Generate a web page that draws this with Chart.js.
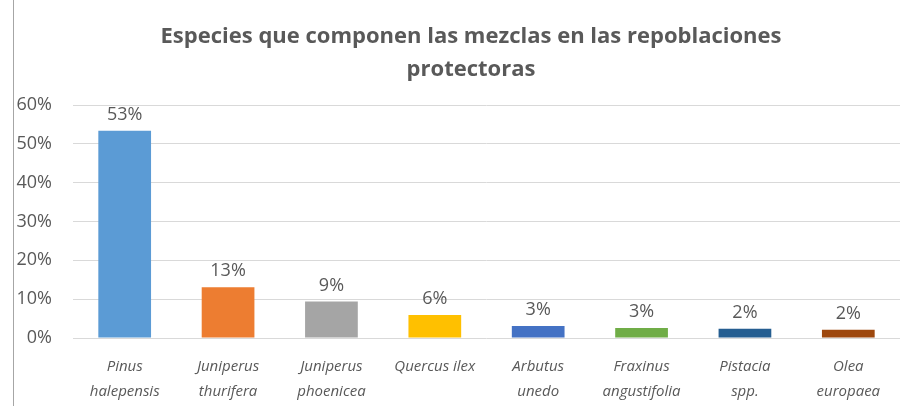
<!DOCTYPE html>
<html>
<head>
<meta charset="utf-8">
<script src="https://cdn.jsdelivr.net/npm/chart.js@4"></script>
<style>
  html, body { margin: 0; padding: 0; background: #ffffff; }
  #wrap { position: relative; width: 913px; height: 406px; }
  #edge { position: absolute; left: 13px; top: 0; width: 1px; height: 406px; background: #a6a6a6; }
  canvas { position: absolute; left: 0; top: 0; }
</style>
</head>
<body>
<div id="wrap">
  <canvas id="c" width="913" height="406"></canvas>
  <div id="edge"></div>
</div>
<script>
const titleLines = ["Especies que componen las mezclas en las repoblaciones", "protectoras"];
const categories = [
  ["Pinus", "halepensis"],
  ["Juniperus", "thurifera"],
  ["Juniperus", "phoenicea"],
  ["Quercus ilex"],
  ["Arbutus", "unedo"],
  ["Fraxinus", "angustifolia"],
  ["Pistacia", "spp."],
  ["Olea", "europaea"]
];
const shares = [0.534, 0.131, 0.094, 0.059, 0.031, 0.026, 0.024, 0.021];
const barColors = ["#5B9BD5", "#ED7D31", "#A5A5A5", "#FFC000", "#4472C4", "#70AD47", "#255E91", "#9E480E"];
const yMax = 0.6;
const yStep = 0.1;

const pct = v => Math.round(v * 100) + "%";

const labelPlugin = {
  id: "barLabels",
  afterDatasetsDraw(chart) {
    const ctx = chart.ctx;
    const meta = chart.getDatasetMeta(0);
    ctx.save();
    ctx.font = "18px 'Open Sans', sans-serif";
    ctx.fillStyle = "#595959";
    ctx.textAlign = "center";
    ctx.textBaseline = "middle";
    meta.data.forEach((bar, i) => {
      ctx.fillText(pct(chart.data.datasets[0].data[i]), bar.x, bar.y - 16);
    });
    ctx.restore();
  }
};

const titlePlugin = {
  id: "customTitle",
  afterDraw(chart) {
    const ctx = chart.ctx;
    ctx.save();
    ctx.font = "bold 22px 'Open Sans', sans-serif";
    ctx.fillStyle = "#595959";
    ctx.textAlign = "center";
    ctx.textBaseline = "middle";
    const cx = 471;
    titleLines.forEach((t, i) => ctx.fillText(t, cx, 37 + i * 33));
    ctx.restore();
  }
};

Chart.defaults.font.family = "'Open Sans', sans-serif";
Chart.defaults.color = "#595959";

new Chart(document.getElementById("c"), {
  type: "bar",
  data: {
    labels: categories,
    datasets: [{
      data: shares,
      backgroundColor: barColors,
      borderWidth: 0,
      barPercentage: 0.51,
      categoryPercentage: 1.0
    }]
  },
  options: {
    responsive: false,
    animation: false,
    layout: { padding: { left: 14, right: 13, top: 105, bottom: 0 } },
    plugins: {
      legend: { display: false },
      tooltip: { enabled: false },
      title: { display: false }
    },
    scales: {
      x: {
        afterFit(axis) { axis.height = 68; },
        grid: { display: false, drawTicks: false },
        border: { display: false },
        ticks: {
          font: { size: 15, style: "italic", lineHeight: 1.67 },
          color: "#595959",
          padding: 16,
          maxRotation: 0,
          autoSkip: false
        }
      },
      y: {
        min: 0,
        max: yMax,
        afterFit(axis) { axis.width = 59; },
        grid: { color: "#D9D9D9", lineWidth: 1, drawTicks: false },
        border: { display: false },
        ticks: {
          stepSize: yStep,
          padding: 21,
          font: { size: 18 },
          color: "#595959",
          callback: v => pct(v)
        }
      }
    }
  },
  plugins: [labelPlugin, titlePlugin]
});
</script>
</body>
</html>
